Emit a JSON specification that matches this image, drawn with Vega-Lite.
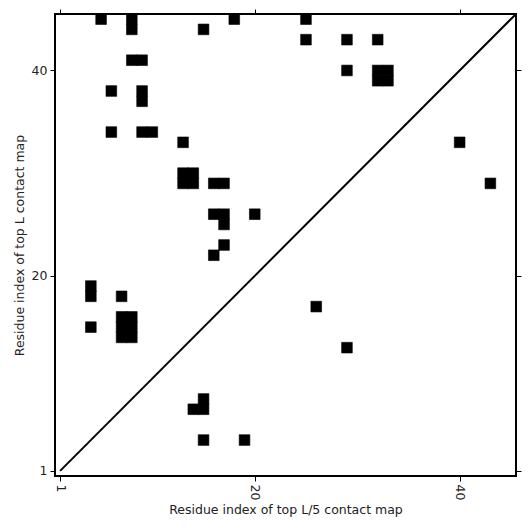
{
  "$schema": "https://vega.github.io/schema/vega-lite/v6.json",
  "width": 461,
  "height": 462,
  "autosize": {"type": "none"},
  "padding": {"left": 55, "top": 14, "right": 15, "bottom": 55},
  "config": {
    "view": {"stroke": "black", "strokeWidth": 2},
    "font": "DejaVu Sans",
    "axis": {"labelFont": "DejaVu Sans", "titleFont": "DejaVu Sans", "labelFontSize": 12.5, "titleFontSize": 12.5, "titleFontWeight": "normal", "labelColor": "#222", "titleColor": "#222", "domain": false, "grid": false, "tickColor": "black", "tickSize": 5, "tickWidth": 1}
  },
  "datasets": {
    "cells": [
      {"i": 5, "j": 45}, {"i": 8, "j": 45}, {"i": 8, "j": 44}, {"i": 15, "j": 44}, {"i": 18, "j": 45}, {"i": 25, "j": 45},
      {"i": 25, "j": 43}, {"i": 29, "j": 43}, {"i": 32, "j": 43}, {"i": 29, "j": 40}, {"i": 32, "j": 40}, {"i": 33, "j": 40},
      {"i": 32, "j": 39}, {"i": 33, "j": 39}, {"i": 8, "j": 41}, {"i": 9, "j": 41}, {"i": 6, "j": 38}, {"i": 9, "j": 38},
      {"i": 9, "j": 37}, {"i": 6, "j": 34}, {"i": 9, "j": 34}, {"i": 10, "j": 34}, {"i": 13, "j": 33}, {"i": 13, "j": 30},
      {"i": 14, "j": 30}, {"i": 13, "j": 29}, {"i": 14, "j": 29}, {"i": 16, "j": 29}, {"i": 17, "j": 29}, {"i": 16, "j": 26},
      {"i": 17, "j": 26}, {"i": 17, "j": 25}, {"i": 20, "j": 26}, {"i": 17, "j": 23}, {"i": 16, "j": 22}, {"i": 26, "j": 17},
      {"i": 4, "j": 19}, {"i": 4, "j": 18}, {"i": 7, "j": 18}, {"i": 7, "j": 16}, {"i": 8, "j": 16}, {"i": 7, "j": 15},
      {"i": 8, "j": 15}, {"i": 7, "j": 14}, {"i": 8, "j": 14}, {"i": 4, "j": 15}, {"i": 29, "j": 13}, {"i": 15, "j": 8},
      {"i": 14, "j": 7}, {"i": 15, "j": 7}, {"i": 15, "j": 4}, {"i": 19, "j": 4}, {"i": 40, "j": 33}, {"i": 43, "j": 29}
    ],
    "diag": [{"i": 1, "j": 1}, {"i": 45.5, "j": 45.5}]
  },
  "layer": [
    {
      "data": {"name": "cells"},
      "mark": {"type": "square", "size": 114, "filled": true, "opacity": 1, "color": "black", "stroke": "black", "strokeWidth": 0.6},
      "encoding": {
        "x": {"field": "i", "type": "quantitative", "scale": {"domain": [0.5, 45.5], "nice": false, "zero": false},
              "axis": {"orient": "bottom", "values": [1, 20, 40], "labelAngle": 90, "labelPadding": 3, "title": "Residue index of top L/5 contact map", "titlePadding": 4}},
        "y": {"field": "j", "type": "quantitative", "scale": {"domain": [0.5, 45.5], "nice": false, "zero": false},
              "axis": {"orient": "left", "values": [1, 20, 40], "labelPadding": 3, "title": "Residue index of top L contact map", "titlePadding": 5}}
      }
    },
    {
      "data": {"name": "diag"},
      "mark": {"type": "line", "color": "black", "strokeWidth": 2, "clip": true},
      "encoding": {
        "x": {"field": "i", "type": "quantitative", "axis": {"orient": "top", "values": [1, 20, 40], "labels": false, "title": null}},
        "y": {"field": "j", "type": "quantitative", "axis": {"orient": "right", "values": [1, 20, 40], "labels": false, "title": null}}
      }
    }
  ],
  "resolve": {"axis": {"x": "independent", "y": "independent"}}
}
